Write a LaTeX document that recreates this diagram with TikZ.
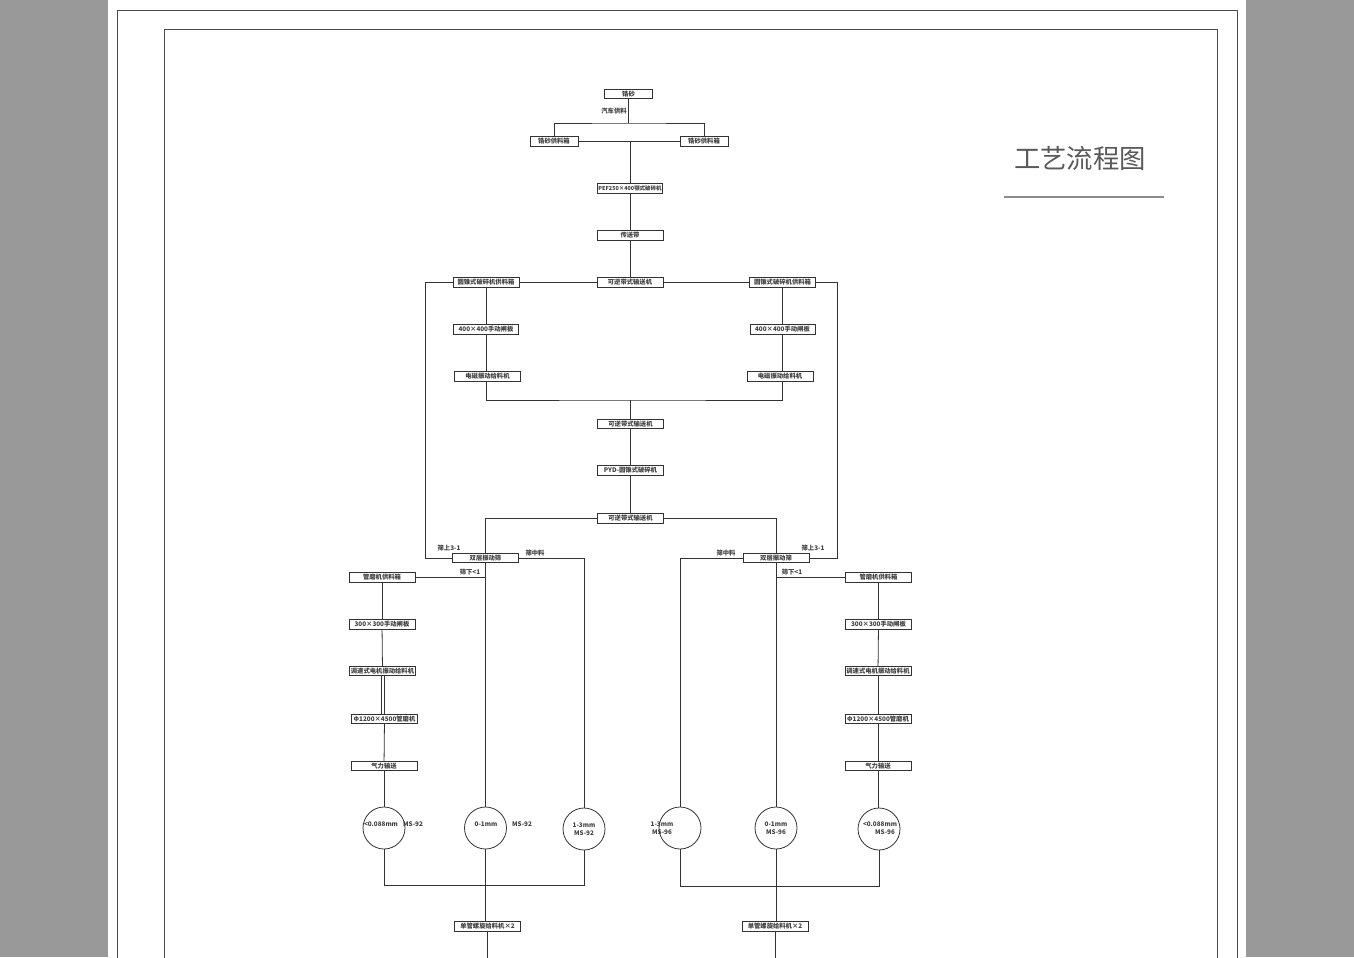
\documentclass[tikz,border=0pt]{standalone}
\usepackage{fontspec}
\setmainfont{Noto Sans CJK SC}
\begin{document}
\begin{tikzpicture}[x=0.02cm,y=-0.02cm,
  ln/.style={draw=black!80,line width=0.45pt},
  box/.style={ln,inner sep=0pt,minimum height=0.19cm,font=\fontsize{3.6}{4}\selectfont\bfseries,text=black!75},
  w48/.style={minimum width=0.96cm},
  w64/.style={minimum width=1.30cm},
  w66/.style={minimum width=1.32cm},
  circ/.style={ln,circle,inner sep=0pt,minimum size=0.84cm,align=center,font=\fontsize{3.6}{4.2}\selectfont\bfseries,text=black!75},
  lab/.style={inner sep=0pt,font=\fontsize{3.6}{4.2}\selectfont\bfseries,text=black!75,align=center},
  frame/.style={draw=black!70,line width=0.5pt}]
\useasboundingbox (0,0) rectangle (1354,957);
\clip (0,0) rectangle (1354,957);
\fill[black!40] (0,0) rectangle (1354,957);
\fill[white] (108,0) rectangle (1246,970);
\draw[frame] (117,10) rectangle (1237,990);
\draw[frame] (164,29) rectangle (1217,990);
% title
\node[inner sep=0pt,font=\fontsize{15}{18}\selectfont,text=black!65] (title) at (1080,158) {工艺流程图};
\coordinate (tl1) at (1004,197);
\coordinate (tl2) at (1164,197);
\draw[draw=black!45,line width=0.6pt] (tl1) -- (tl2);
% top part
\node[box,w48] (src) at (628.5,94) {锆砂};
\node[lab] (truck) at (614,111) {汽车供料};
\node[box,w48] (fL) at (554,141.5) {锆砂供料箱};
\node[box,w48] (fR) at (704,141.5) {锆砂供料箱};
\coordinate (t1) at (628.5,123);
\draw[ln] (src.south) -- (t1);
\draw[ln] (fL.north) |- (t1) -| (fR.north);
\draw[ln] (fL.east) -- (fR.west);
\node[box,w64,font=\fontsize{3.1}{4}\selectfont\bfseries] (jaw) at (630,188.5) {PEF250×400颚式破碎机};
\draw[ln] (jaw.north |- fL.east) -- (jaw.north);
\node[box,w66] (belt) at (630,235.5) {传送带};
\node[box,w66] (conv1) at (630,282.5) {可逆带式输送机};
\draw[ln] (jaw) -- (belt);
\draw[ln] (belt) -- (conv1);
\node[box,w66] (coneL) at (486,282.5) {圆锥式破碎机供料箱};
\node[box,w66] (coneR) at (782.5,282.5) {圆锥式破碎机供料箱};
\draw[ln] (conv1.west) -- (coneL.east);
\draw[ln] (conv1.east) -- (coneR.west);
\node[box,w64] (gateL) at (486,329.5) {400×400手动闸板};
\node[box,w64] (gateR) at (782.5,329.5) {400×400手动闸板};
\node[box,w66] (vibL) at (487.5,376.5) {电磁振动给料机};
\node[box,w66] (vibR) at (780,376.5) {电磁振动给料机};
\draw[ln] (coneL) -- (gateL);
\draw[ln] (coneR) -- (gateR);
\draw[ln] (gateL.south) -- (gateL.south |- vibL.north);
\draw[ln] (gateR.south) -- (gateR.south |- vibR.north);
\node[box,w66] (conv2) at (630.5,424) {可逆带式输送机};
\node[box,w66] (pyd) at (630.5,470.5) {PYD-圆锥式破碎机};
\node[box,w66] (conv3) at (630.5,518.5) {可逆带式输送机};
\coordinate (j2) at (630.5,400);
\draw[ln] (vibL.south -| gateL.south) |- (j2) -| (vibR.south -| gateR.south);
\draw[ln] (j2) -- (conv2.north);
\draw[ln] (conv2) -- (pyd);
\draw[ln] (pyd) -- (conv3);
% screens
\node[box,w66] (scrL) at (485.5,558) {双层振动筛};
\node[box,w66] (scrR) at (776,558) {双层振动筛};
\draw[ln] (conv3.west) -| (scrL.north);
\draw[ln] (conv3.east) -| (scrR.north);
\coordinate (oL) at (425,558);
\coordinate (oR) at (837,558);
\draw[ln] (coneL.west) -| (oL) -- (scrL.west);
\draw[ln] (coneR.east) -| (oR) -- (scrR.east);
\node[lab] (upL) at (449,548) {筛上3-1};
\node[lab] (upR) at (813,548) {筛上3-1};
\node[lab] (midL) at (535,553) {筛中料};
\node[lab] (midR) at (726,553) {筛中料};
\node[lab] (dnL) at (470,572.5) {筛下<1};
\node[lab] (dnR) at (792,572.5) {筛下<1};
% circles
\node[circ] (cL1) at (384,828) {};
\node[lab] at (381,824) {<0.088mm};
\node[lab] (msL1) at (413,824) {MS-92};
\node[circ] (cL2) at (485.5,828) {};
\node[lab] at (486,824) {0-1mm};
\node[lab] (msL2) at (522,824) {MS-92};
\node[circ] (cL3) at (584,829) {1-3mm\\MS-92};
\node[circ] (cR1) at (680,828) {};
\node[lab] at (662,828) {1-3mm\\MS-96};
\node[circ] (cR2) at (776,828) {0-1mm\\MS-96};
\node[circ] (cR3) at (879,829) {};
\node[lab] at (880,828) {<0.088mm\\\hspace*{0.2cm}MS-96};
\draw[ln] (scrL.east) -| (cL3.north);
\draw[ln] (scrR.west) -| (cR1.north);
\draw[ln] (scrL.south) -- (cL2.north);
\draw[ln] (scrR.south) -- (cR2.north);
% mill lines
\node[box,w66] (millL) at (382,577.5) {管磨机供料箱};
\node[box,w66] (millR) at (878.5,577.5) {管磨机供料箱};
\draw[ln] (millL.east) -- (millL.east -| scrL.south);
\draw[ln] (millR.west) -- (millR.west -| scrR.south);
\node[box,w66] (g3L) at (382,624.5) {300×300手动闸板};
\node[box,w66] (g3R) at (878.5,624.5) {300×300手动闸板};
\node[box,w66] (spL) at (382.5,671) {调速式电机振动给料机};
\node[box,w66] (spR) at (878,671) {调速式电机振动给料机};
\node[box,w66] (pmL) at (384.5,719) {Φ1200×4500管磨机};
\node[box,w66] (pmR) at (878,719) {Φ1200×4500管磨机};
\node[box,w66] (airL) at (384,766) {气力输送};
\node[box,w66] (airR) at (878,766) {气力输送};
\draw[ln] (millL) -- (g3L);
\draw[ln] (g3L) -- (spL);
\draw[ln] ([xshift=-0.03cm]spL.south) -- ([xshift=-0.03cm]spL.south |- pmL.north);
\draw[ln] ([xshift=0.03cm]spL.south) -- ([xshift=0.03cm]spL.south |- pmL.north);
\draw[ln] (pmL) -- (airL);
\draw[ln] (airL.south) -- (cL1.north);
\draw[ln] (millR) -- (g3R);
\draw[ln] (g3R) -- (spR);
\draw[ln] (spR) -- (pmR);
\draw[ln] (pmR) -- (airR);
\draw[ln] (airR.south) -- (airR.south |- cR3.north);
% bottom
\coordinate (j3) at (485.5,885);
\coordinate (j4) at (776,886);
\draw[ln] (cL1.south) |- (j3) -| (cL3.south);
\draw[ln] (cR1.south) |- (j4) -| (cR3.south);
\node[box,w66] (spiL) at (487.5,926.5) {单管螺旋给料机×2};
\node[box,w66] (spiR) at (775,926.5) {单管螺旋给料机×2};
\coordinate (eL) at (487.5,960);
\coordinate (eR) at (775,960);
\draw[ln] (cL2.south) -- (cL2.south |- spiL.north);
\draw[ln] (cR2.south) -- (cR2.south |- spiR.north);
\draw[ln] (spiL.south) -- (eL);
\draw[ln] (spiR.south) -- (eR);
\end{tikzpicture}
\end{document}
